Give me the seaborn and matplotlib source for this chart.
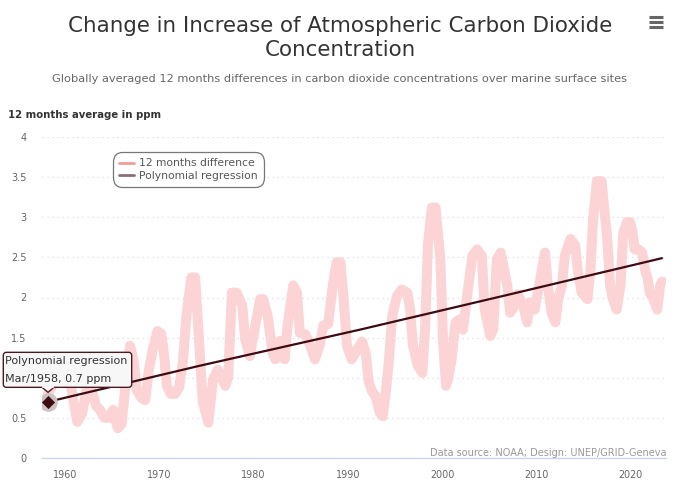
import numpy as np
import pandas as pd
import matplotlib
matplotlib.use("Agg")
import matplotlib.pyplot as plt
import matplotlib.transforms as mtransforms
from matplotlib.patches import FancyBboxPatch, Polygon
from matplotlib.lines import Line2D
import seaborn as sns

# ---------------- data ----------------
years_diff = [
    1958.2, 1958.9, 1959.8, 1960.3, 1960.7, 1961.3, 1961.8, 1962.3, 1962.8, 1963.3,
    1963.7, 1964.2, 1964.7, 1965.1, 1965.6, 1966.0, 1966.5, 1966.9, 1967.3, 1967.6,
    1968.1, 1968.5, 1968.9, 1969.3, 1969.8, 1970.2, 1970.5, 1970.8, 1971.2, 1971.7,
    1972.1, 1972.5, 1972.9, 1973.4, 1973.8, 1974.2, 1974.6, 1975.2, 1975.7, 1976.2,
    1977.0, 1977.3, 1977.7, 1978.2, 1978.8, 1979.1, 1979.6, 1980.1, 1980.7, 1981.0,
    1981.5, 1982.0, 1982.3, 1982.8, 1983.3, 1983.6, 1984.2, 1984.6, 1984.9, 1985.5,
    1986.0, 1986.5, 1987.0, 1987.4, 1987.9, 1988.4, 1988.8, 1989.2, 1989.5, 1989.9,
    1990.4, 1991.0, 1991.5, 1991.9, 1992.2, 1992.6, 1992.9, 1993.4, 1993.7, 1994.0,
    1994.3, 1994.7, 1995.2, 1995.7, 1996.3, 1996.6, 1996.9, 1997.4, 1997.9, 1998.2,
    1998.5, 1998.9, 1999.3, 1999.8, 2000.1, 2000.4, 2000.6, 2001.0, 2001.4, 2001.9,
    2002.2, 2002.6, 2003.2, 2003.7, 2004.2, 2004.5, 2005.1, 2005.4, 2005.8, 2006.2,
    2006.9, 2007.2, 2007.7, 2008.0, 2008.6, 2009.0, 2009.3, 2009.8, 2010.4, 2010.9,
    2011.2, 2011.6, 2012.0, 2012.3, 2012.7, 2013.0, 2013.6, 2014.1, 2014.4, 2014.8,
    2015.4, 2015.7, 2016.0, 2016.4, 2016.9, 2017.5, 2017.8, 2018.1, 2018.5, 2018.9,
    2019.2, 2019.6, 2019.9, 2020.2, 2020.4, 2020.8, 2021.2, 2021.5, 2021.8, 2022.0,
    2022.4, 2022.8, 2023.1, 2023.3,
]
ppm_diff = [
    0.80, 0.95, 1.00, 1.05, 0.85, 0.45, 0.55, 0.85, 0.85, 0.65,
    0.60, 0.50, 0.50, 0.60, 0.37, 0.42, 1.00, 1.40, 1.20, 0.85,
    0.75, 0.72, 1.10, 1.35, 1.58, 1.55, 1.30, 0.90, 0.80, 0.80,
    0.88, 1.20, 1.80, 2.25, 2.25, 1.50, 0.70, 0.44, 0.98, 1.10,
    0.90, 1.00, 2.06, 2.06, 1.90, 1.48, 1.27, 1.60, 1.98, 1.98,
    1.77, 1.31, 1.23, 1.46, 1.23, 1.65, 2.15, 2.06, 1.56, 1.54,
    1.40, 1.23, 1.40, 1.65, 1.67, 2.15, 2.44, 2.44, 2.06, 1.40,
    1.23, 1.35, 1.45, 1.30, 0.95, 0.82, 0.78, 0.56, 0.52, 0.80,
    1.15, 1.77, 2.02, 2.10, 2.06, 1.85, 1.40, 1.15, 1.06, 1.65,
    2.69, 3.12, 3.12, 2.48, 1.44, 0.90, 0.98, 1.23, 1.69, 1.73,
    1.60, 1.98, 2.52, 2.60, 2.52, 1.85, 1.52, 1.60, 2.48, 2.56,
    2.15, 1.81, 1.90, 2.04, 1.90, 1.69, 1.94, 1.85, 2.23, 2.56,
    2.15, 1.81, 1.69, 1.98, 2.15, 2.52, 2.73, 2.65, 2.31, 2.06,
    1.98, 2.31, 2.98, 3.45, 3.45, 2.73, 2.15, 1.98, 1.85, 2.15,
    2.81, 2.94, 2.94, 2.81, 2.60, 2.60, 2.56, 2.35, 2.23, 2.06,
    1.98, 1.85, 2.15, 2.20,
]
years_reg = [1958.2, 1974.3, 1991.3, 2007.2, 2023.3]
ppm_reg = [0.70, 1.15, 1.60, 2.04, 2.49]

x_ticks = [1960, 1970, 1980, 1990, 2000, 2010, 2020]
y_ticks = [0, 0.5, 1, 1.5, 2, 2.5, 3, 3.5, 4]
y_tick_labels = ["0", "0.5", "1", "1.5", "2", "2.5", "3", "3.5", "4"]

series_names = ["12 months difference", "Polynomial regression"]
tooltip_date = "Mar/1958"

df_diff = pd.DataFrame({"year": years_diff, "ppm": ppm_diff})
df_reg = pd.DataFrame({"year": years_reg, "ppm": ppm_reg})

# ---------------- styling ----------------
sns.set_theme(style="white")
plt.rcParams["font.family"] = ["DejaVu Sans"]

W, H = 680, 501
fig = plt.figure(figsize=(W / 100, H / 100), dpi=100)
ax = fig.add_axes([41.7 / W, 1 - 458 / H, (666 - 41.7) / W, (458 - 137) / H])

pink = "#fcd4d6"
dark = "#3d0b11"

sns.lineplot(data=df_diff, x="year", y="ppm", ax=ax, color=pink, linewidth=7.2,
             solid_capstyle="round", solid_joinstyle="round", zorder=2,
             estimator=None, sort=False)
sns.lineplot(data=df_reg, x="year", y="ppm", ax=ax, color=dark, linewidth=1.6,
             zorder=3, estimator=None, sort=False)

ax.set_xlim(1957.53, 2023.73)
ax.set_ylim(0, 4)
ax.set_xticks(x_ticks)
ax.set_xticklabels([str(t) for t in x_ticks])
ax.set_yticks(y_ticks)
ax.set_yticklabels(y_tick_labels)
ax.set_xlabel("")
ax.set_ylabel("")
ax.tick_params(axis="x", length=0, pad=8.5, labelsize=6.9, labelcolor="#666666")
ax.tick_params(axis="y", length=0, pad=11, labelsize=7, labelcolor="#666666")
for s in ["top", "right", "left"]:
    ax.spines[s].set_visible(False)
ax.spines["bottom"].set_color("#ccd6eb")
ax.spines["bottom"].set_linewidth(1)
ax.yaxis.grid(True, color="#dcdcdc", linestyle=(0, (1, 3)), linewidth=0.9)
ax.xaxis.grid(False)
ax.set_axisbelow(True)
ax.patch.set_alpha(0)

# hover marker on the first regression point
ax.scatter([years_reg[0]], [ppm_reg[0]], s=180, color="#cbc2c3", zorder=5, linewidths=0)
ax.scatter([years_reg[0]], [ppm_reg[0]], s=45, marker="D", color=dark, zorder=6,
           linewidths=0)

# legend
handles = [Line2D([0], [0], color="#f29c9c", lw=2),
           Line2D([0], [0], color="#8d6f73", lw=2)]
leg = ax.legend(handles, series_names, loc="upper left",
                bbox_to_anchor=(112.5 / W, 1 - 152 / H), bbox_transform=fig.transFigure,
                fontsize=7.75, frameon=True, fancybox=True, framealpha=1,
                edgecolor="#777777", handlelength=1.4, handletextpad=0.5,
                borderpad=0.6, labelspacing=0.2, borderaxespad=0)
leg.get_frame().set_linewidth(0.9)
leg.get_frame().set_boxstyle("round", pad=0, rounding_size=0.9)
for t in leg.get_texts():
    t.set_color("#555555")

# ---------------- texts ----------------
ident = mtransforms.IdentityTransform()

def P(x, y):
    return x, H - y

fig.text(*P(340, 32), "Change in Increase of Atmospheric Carbon Dioxide",
         transform=ident, ha="center", va="baseline", fontsize=15.4, color="#333333")
fig.text(*P(340, 55.5), "Concentration", transform=ident, ha="center", va="baseline",
         fontsize=15.4, color="#333333")
fig.text(*P(340, 82.5),
         "Globally averaged 12 months differences in carbon dioxide concentrations over marine surface sites",
         transform=ident, ha="center", va="baseline", fontsize=8.2, color="#666666")
fig.text(*P(8, 115), "12 months average in ppm", transform=ident, ha="left",
         va="center", fontsize=7.3, color="#333333", fontweight="bold")
fig.text(*P(667, 453), "Data source: NOAA; Design: UNEP/GRID-Geneva", transform=ident,
         ha="right", va="center", fontsize=7.0, color="#999999")

# hamburger menu icon
for yy in (17, 22, 27):
    fig.add_artist(Line2D([649, 663], [H - yy, H - yy], color="#666666", lw=2.2,
                          transform=ident, solid_capstyle="butt"))

# tooltip box
fig.canvas.draw()
mx, my = ax.transData.transform((years_reg[0], ppm_reg[0]))
box_l, box_r = 3.3, 131.7
box_t, box_b = my + 49.5, my + 14.5
tip_y = my + 9.5
bg = "#f7f7f7"
ec = "#4b1a1f"
fig.add_artist(FancyBboxPatch((box_l, box_b), box_r - box_l, box_t - box_b,
                              boxstyle="round,pad=0,rounding_size=3", fc=bg, ec=ec,
                              lw=1, transform=ident, zorder=10))
fig.add_artist(Polygon([(mx - 6, box_b), (mx, tip_y), (mx + 6, box_b)], closed=False,
                       fc=bg, ec=ec, lw=1, transform=ident, zorder=11))
fig.add_artist(Line2D([mx - 5.3, mx + 5.3], [box_b + 0.2, box_b + 0.2], color=bg, lw=1.6,
                      transform=ident, zorder=12))
fig.text(box_l + 1.5, box_t - 9, series_names[1], transform=ident, ha="left",
         va="center", fontsize=8, color="#333333", zorder=13)
fig.text(box_l + 1.5, box_t - 26.5, f"{tooltip_date}, {ppm_reg[0]} ppm", transform=ident,
         ha="left", va="center", fontsize=8, color="#333333", zorder=13)

fig.savefig("out.png", dpi=100)
